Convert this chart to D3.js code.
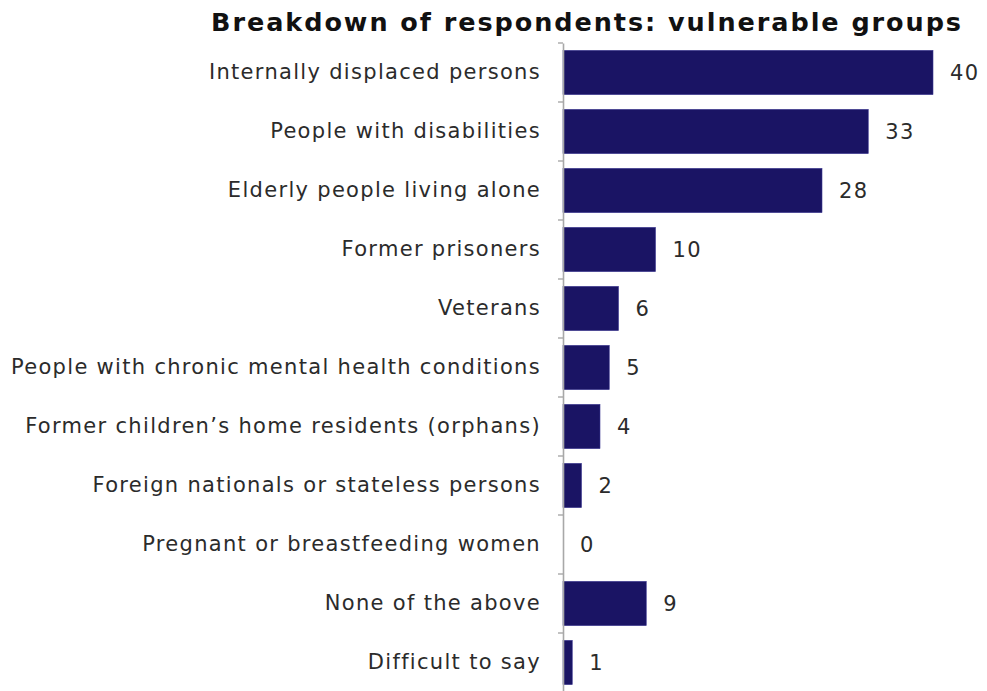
<!DOCTYPE html>
<html>
<head>
<meta charset="utf-8">
<script src="https://cdn.jsdelivr.net/npm/d3@7"></script>
<style>
  html, body { margin: 0; padding: 0; background: #fff; }
  svg { display: block; }
</style>
</head>
<body>
<svg id="chart" width="987" height="691"></svg>
<script>
const titleText = "Breakdown of respondents: vulnerable groups";
const categories = [
  "Internally displaced persons",
  "People with disabilities",
  "Elderly people living alone",
  "Former prisoners",
  "Veterans",
  "People with chronic mental health conditions",
  "Former children\u2019s home residents (orphans)",
  "Foreign nationals or stateless persons",
  "Pregnant or breastfeeding women",
  "None of the above",
  "Difficult to say"
];
const values = [40, 33, 28, 10, 6, 5, 4, 2, 0, 9, 1];

const svg = d3.select("#chart");
const axisX = 563;
const x = d3.scaleLinear().domain([0, 40]).range([axisX, 933]);
const y = d3.scaleBand().domain(categories).range([43, 692]).paddingInner(0.25).paddingOuter(0.125);

const labelFont = "'DejaVu Sans', sans-serif";

function fitWidth(sel, target, maxSize) {
  let maxW = 0;
  sel.each(function() {
    const w = this.getComputedTextLength();
    if (w > maxW) maxW = w;
  });
  const cur = parseFloat(sel.style("font-size"));
  let size = cur * target / maxW;
  if (size > maxSize) size = maxSize;
  sel.style("font-size", size + "px");
  maxW = 0; let maxN = 1;
  sel.each(function() {
    const w = this.getComputedTextLength();
    if (w > maxW) { maxW = w; maxN = this.textContent.length; }
  });
  const ls = (target - maxW) / maxN;
  sel.style("letter-spacing", ls + "px");
}

// Title
const title = svg.append("text")
  .attr("x", 587).attr("y", 31)
  .attr("text-anchor", "middle")
  .style("font-family", labelFont)
  .style("font-weight", "bold")
  .style("font-size", "24px")
  .style("fill", "#111")
  .text(titleText);
fitWidth(title, 752, 25.5);

// Bars
svg.append("g").selectAll("rect")
  .data(values)
  .join("rect")
  .attr("x", x(0))
  .attr("y", (d, i) => y(categories[i]))
  .attr("width", d => x(d) - x(0))
  .attr("height", y.bandwidth())
  .attr("fill", "#1a1464")
  .attr("stroke", "#3b3690")
  .attr("stroke-width", 0.6);

// Axis
const axis = d3.axisLeft(y).tickSize(0).tickSizeOuter(0).tickPadding(22);
const gAxis = svg.append("g").attr("transform", `translate(${axisX},0)`).call(axis);
gAxis.select(".domain").attr("stroke", "#a8a8a8").attr("stroke-width", 1.6);
const labels = gAxis.selectAll(".tick text")
  .style("font-family", labelFont)
  .style("font-size", "19px")
  .style("fill", "#2b2b2b");
fitWidth(labels, 530, 21);

// Boundary ticks
const boundaries = categories.map(c => y(c) - y.step() * y.paddingOuter());
svg.append("g").selectAll("line")
  .data(boundaries)
  .join("line")
  .attr("x1", axisX - 5).attr("x2", axisX)
  .attr("y1", d => d).attr("y2", d => d)
  .attr("stroke", "#a8a8a8").attr("stroke-width", 1.4);

// Value labels
svg.append("g").selectAll("text")
  .data(values)
  .join("text")
  .attr("x", d => x(d) + 17)
  .attr("y", (d, i) => y(categories[i]) + y.bandwidth() / 2)
  .attr("dy", "0.36em")
  .style("font-family", labelFont)
  .style("font-size", "21px")
  .style("fill", "#2b2b2b")
  .style("letter-spacing", "1.5px")
  .text(d => d);
</script>
</body>
</html>
